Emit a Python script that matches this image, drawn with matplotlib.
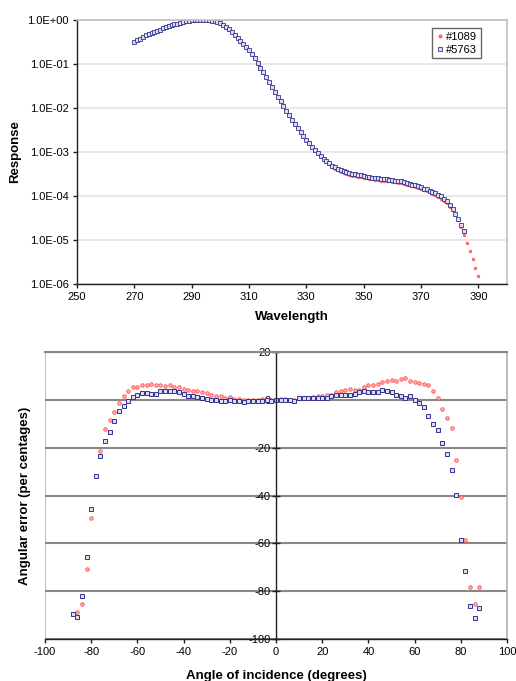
import numpy as np
import matplotlib
matplotlib.use("Agg")
import matplotlib.pyplot as plt
from matplotlib.ticker import FuncFormatter, NullLocator

plt.rcParams['font.family'] = ['Liberation Sans', 'DejaVu Sans']
plt.rcParams['axes.unicode_minus'] = False

# ---- top chart: spectral response (log10 of response) ----
wl_1089 = list(range(270, 391))
log_resp_1089 = [
    -0.50, -0.46, -0.43, -0.39, -0.35, -0.32, -0.29, -0.27, -0.24, -0.22,
    -0.19, -0.17, -0.14, -0.12, -0.10, -0.08, -0.06, -0.05, -0.03, -0.02,
    -0.01, 0.00, 0.00, 0.00, 0.00, 0.00, -0.01, -0.02, -0.03, -0.05,
    -0.07, -0.11, -0.15, -0.20, -0.27, -0.34, -0.40, -0.47, -0.54, -0.61,
    -0.68, -0.77, -0.87, -0.97, -1.08, -1.19, -1.30, -1.41, -1.52, -1.63,
    -1.74, -1.85, -1.96, -2.07, -2.17, -2.27, -2.37, -2.46, -2.55, -2.64,
    -2.72, -2.80, -2.88, -2.96, -3.03, -3.10, -3.17, -3.23, -3.28, -3.33,
    -3.38, -3.42, -3.45, -3.48, -3.50, -3.52, -3.54, -3.55, -3.56, -3.57,
    -3.59, -3.60, -3.61, -3.62, -3.63, -3.64, -3.65, -3.66, -3.66, -3.67,
    -3.68, -3.69, -3.70, -3.71, -3.73, -3.74, -3.76, -3.78, -3.80, -3.82,
    -3.84, -3.87, -3.89, -3.92, -3.95, -3.98, -4.02, -4.06, -4.11, -4.17,
    -4.24, -4.32, -4.42, -4.55, -4.70, -4.88, -5.06, -5.25, -5.44, -5.63,
    -5.82,
]
wl_5763 = list(range(270, 386))
log_resp_5763 = [
    -0.50, -0.46, -0.43, -0.39, -0.35, -0.32, -0.29, -0.27, -0.24, -0.22,
    -0.19, -0.17, -0.14, -0.12, -0.10, -0.08, -0.06, -0.05, -0.03, -0.02,
    -0.01, 0.00, 0.00, 0.00, 0.00, 0.00, -0.01, -0.02, -0.03, -0.05,
    -0.07, -0.11, -0.15, -0.20, -0.27, -0.34, -0.40, -0.47, -0.54, -0.61,
    -0.68, -0.77, -0.87, -0.97, -1.08, -1.19, -1.30, -1.41, -1.52, -1.63,
    -1.74, -1.85, -1.96, -2.07, -2.17, -2.27, -2.37, -2.46, -2.55, -2.64,
    -2.72, -2.80, -2.88, -2.96, -3.03, -3.09, -3.15, -3.21, -3.26, -3.31,
    -3.35, -3.38, -3.41, -3.44, -3.46, -3.48, -3.50, -3.51, -3.52, -3.53,
    -3.55, -3.56, -3.57, -3.58, -3.59, -3.60, -3.61, -3.62, -3.62, -3.63,
    -3.64, -3.65, -3.66, -3.67, -3.69, -3.70, -3.72, -3.74, -3.76, -3.78,
    -3.80, -3.83, -3.85, -3.88, -3.91, -3.94, -3.97, -4.01, -4.06, -4.12,
    -4.20, -4.29, -4.40, -4.52, -4.66, -4.80,
]
wl_ticks = [250, 270, 290, 310, 330, 350, 370, 390]

# ---- bottom chart: angular error ----
angles = list(range(-88, 89, 2))
err_1089 = [
    -89.5, -88.9, -85.4, -70.8, -49.6, -32.0, -21.4, -12.4, -8.6, -4.9,
    -1.3, 1.8, 3.9, 5.5, 5.5, 6.1, 6.4, 6.7, 6.1, 6.4,
    5.7, 6.1, 5.5, 5.3, 4.6, 4.2, 3.9, 3.6, 3.2, 2.8,
    2.2, 1.8, 1.4, 0.8, 1.1, 0.4, 0.4, 0.0, 0.0, 0.0,
    0.0, 0.2, 0.0, -0.2, 0.0, 0.4, 0.4, 0.1, 0.0, 0.8,
    0.8, 0.8, 1.1, 1.4, 1.8, 2.2, 2.2, 3.2, 3.6, 4.1,
    4.6, 4.1, 4.1, 5.3, 6.0, 6.4, 6.7, 7.6, 7.8, 8.5,
    8.0, 8.7, 9.1, 7.8, 7.4, 7.1, 6.7, 6.4, 3.6, 0.8,
    -3.8, -7.8, -11.9, -25.3, -40.8, -58.6, -78.3, -85.4, -78.3,
]
err_5763 = [
    -89.6, -90.6, -82.0, -65.8, -45.7, -32.0, -23.4, -17.2, -13.5, -8.9,
    -4.7, -2.6, -0.3, 1.1, 2.1, 2.9, 2.9, 2.6, 2.5, 3.9,
    3.6, 3.9, 3.9, 3.2, 2.5, 1.8, 1.4, 1.1, 0.7, 0.4,
    0.0, 0.0, -0.3, -0.6, 0.0, -0.3, -0.6, -1.0, -0.6, -0.3,
    -0.6, -0.3, 0.0, -0.3, 0.0, 0.0, 0.0, 0.0, -0.3, 0.8,
    0.8, 0.8, 0.8, 0.8, 0.8, 0.8, 1.8, 2.2, 2.2, 2.2,
    2.2, 2.5, 3.2, 3.6, 3.2, 3.2, 3.2, 4.1, 3.9, 3.2,
    2.2, 1.8, 0.8, 1.4, 0.0, -1.4, -2.8, -6.9, -10.0, -12.8,
    -17.9, -22.5, -29.2, -39.9, -58.6, -71.4, -86.1, -91.3, -87.1,
]
angle_ticks = list(range(-100, 101, 20))
err_ticks = list(range(-100, 21, 20))

red = '#ff4a4a'
blue = '#33338f'

fig = plt.figure(figsize=(5.16, 6.81), dpi=100)

# top chart
ax1 = fig.add_axes([77/516, 1 - 284/681, 430/516, 264/681])
ax1.set_yscale('log')
ax1.plot(wl_1089, 10 ** np.array(log_resp_1089), ls='none', marker='o', ms=2.1,
         mfc=red, mec=red, mew=0.4, alpha=0.8, label='#1089')
ax1.plot(wl_5763, 10 ** np.array(log_resp_5763), ls='none', marker='s', ms=2.2,
         mfc='#dcdcf2', mec=blue, mew=0.6, label='#5763')
ax1.set_xlim(250, 400)
ax1.set_ylim(1e-6, 1)
ax1.set_xticks(wl_ticks)
ax1.set_yticks([10.0 ** k for k in range(-6, 1)])
ax1.yaxis.set_minor_locator(NullLocator())
ax1.yaxis.set_major_formatter(FuncFormatter(lambda v, p: '{:.1E}'.format(v)))
ax1.grid(axis='y', color='#e4e4e4', lw=1.2)
ax1.set_axisbelow(True)
for s in ['top', 'right']:
    ax1.spines[s].set_color('#c0c0c0')
    ax1.spines[s].set_linewidth(1.2)
for s in ['left', 'bottom']:
    ax1.spines[s].set_color('#202020')
    ax1.spines[s].set_linewidth(1.0)
ax1.tick_params(labelsize=8, length=3, width=1, color='#202020', pad=3)
ax1.set_xlabel('Wavelength', fontsize=9.5, fontweight='bold', labelpad=6)
ax1.set_ylabel('Response', fontsize=9.5, fontweight='bold', labelpad=4)
leg = ax1.legend(loc='upper right', bbox_to_anchor=(0.94, 0.97), fontsize=8,
                 frameon=True, fancybox=False, edgecolor='#404040',
                 handlelength=0.6, handletextpad=0.3, borderpad=0.35,
                 labelspacing=0.25, borderaxespad=0, markerscale=1.2)
leg.get_frame().set_linewidth(1.0)

# bottom chart
ax2 = fig.add_axes([45/516, 1 - 639/681, 462/516, 287/681])
ax2.plot(angles, err_1089, ls='none', marker='o', ms=2.5,
         mfc='#ffb4b4', mec=red, mew=0.6)
ax2.plot(angles, err_5763, ls='none', marker='s', ms=2.4,
         mfc='#dcdcf2', mec=blue, mew=0.7)
ax2.set_xlim(-100, 100)
ax2.set_ylim(-100, 20)
ax2.set_xticks(angle_ticks)
ax2.set_yticks(err_ticks)
ax2.grid(axis='y', color='#888888', lw=1.5)
ax2.set_axisbelow(True)
ax2.spines['left'].set_position(('data', 0))
ax2.spines['left'].set_color('#202020')
ax2.spines['left'].set_linewidth(1.0)
ax2.spines['bottom'].set_color('#202020')
ax2.spines['bottom'].set_linewidth(1.0)
ax2.spines['top'].set_color('#888888')
ax2.spines['top'].set_linewidth(1.5)
ax2.spines['right'].set_color('#b0b0b0')
ax2.spines['right'].set_linewidth(1.2)
ax2.axvline(-100, color='#b0b0b0', lw=1.2, zorder=0)
ax2.tick_params(labelsize=8, length=3, width=1, color='#202020', pad=3)
ax2.tick_params(axis='y', direction='inout', length=6, pad=1)
ax2.set_xlabel('Angle of incidence (degrees)', fontsize=9.5,
               fontweight='bold', labelpad=9)
ax2.set_ylabel('Angular error (per centages)', fontsize=9.5,
               fontweight='bold')
ax2.yaxis.set_label_coords(-0.03, 0.5)

fig.savefig('out.png', dpi=100)
